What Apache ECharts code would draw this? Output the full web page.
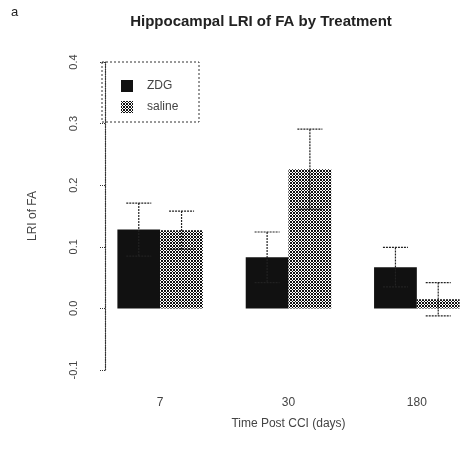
<!DOCTYPE html>
<html><head><meta charset="utf-8">
<script src="https://cdn.jsdelivr.net/npm/echarts@6/dist/echarts.min.js"></script>
<style>html,body{margin:0;padding:0;background:#fff}#c{width:472px;height:458px}</style>
</head><body><div id="c"></div>
<script>
var categories = ['7', '30', '180'];
var zdgMean = [0.128, 0.083, 0.067];
var zdgErr = [0.043, 0.041, 0.032];
var salineMean = [0.127, 0.226, 0.015];
var salineErr = [0.031, 0.065, 0.027];
var yMin = -0.1, yMax = 0.4, yStep = 0.1;

var pc = document.createElement('canvas');
pc.width = 3; pc.height = 3;
var pctx = pc.getContext('2d');
pctx.fillStyle = '#fff'; pctx.fillRect(0,0,3,3);
pctx.fillStyle = '#111';
pctx.fillRect(0,0,1,1); pctx.fillRect(2,0,1,1); pctx.fillRect(1,1,1,1); pctx.fillRect(0,2,1,1); pctx.fillRect(2,2,1,1);
var checker = {image: pc, repeat: 'repeat'};

function errSeries(means, errs, side) {
  return {
    type: 'custom', z: 10, silent: true,
    data: means.map(function (m, i) { return [i, m, errs[i]]; }),
    renderItem: function (params, api) {
      var i = api.value(0), m = api.value(1), e = api.value(2);
      var band = api.size([1, 0])[0];
      var c = api.coord([i, m]);
      var x = c[0] + side * band / 6;
      var top = api.coord([i, m + e])[1];
      var bot = api.coord([i, m - e])[1];
      var hw = 12.5;
      var st = {stroke: '#222', lineWidth: 1.2, lineDash: [2, 1]};
      return {type: 'group', children: [
        {type: 'line', shape: {x1: x, y1: top, x2: x, y2: bot}, style: st},
        {type: 'line', shape: {x1: x - hw, y1: top, x2: x + hw, y2: top}, style: st},
        {type: 'line', shape: {x1: x - hw, y1: bot, x2: x + hw, y2: bot}, style: st}
      ]};
    }
  };
}

var chart = echarts.init(document.getElementById('c'));
chart.setOption({
  animation: false,
  textStyle: {fontFamily: 'Liberation Sans'},
  title: {text: 'Hippocampal LRI of FA by Treatment', left: 256, textAlign: 'center', top: 9,
    textStyle: {fontSize: 15, fontWeight: 'bold', color: '#222', fontFamily: 'Liberation Sans'}},
  graphic: [
    {type: 'text', left: 11, top: 6, style: {text: 'a', font: '13px Liberation Sans', fill: '#222'}},
    {type: 'rect', shape: {x: 102, y: 62, width: 97, height: 60}, z: 5,
      style: {fill: 'rgba(255,255,255,0)', stroke: '#333', lineWidth: 1, lineDash: [2, 2]}}
  ],
  legend: {orient: 'vertical', left: 116, top: 75, itemWidth: 12, itemHeight: 12, itemGap: 9,
    icon: 'rect',
    textStyle: {fontSize: 12, color: '#444', padding: [0, 0, 0, 9]}, data: ['ZDG', 'saline']},
  grid: {left: 96, width: 385, top: 62, bottom: 88, outerBoundsMode: 'none', containLabel: false},
  xAxis: {type: 'category', data: categories,
    axisLine: {show: false}, axisTick: {show: false},
    axisLabel: {margin: 27, fontSize: 12, color: '#444'},
    name: 'Time Post CCI (days)', nameLocation: 'middle', nameGap: 48,
    nameTextStyle: {fontSize: 12, color: '#444'}},
  yAxis: {type: 'value', min: yMin, max: yMax, interval: yStep, offset: -9,
    axisLine: {show: true, lineStyle: {color: '#333', type: 'dotted', width: 1.2}},
    axisTick: {show: true, length: 6, lineStyle: {color: '#333', type: 'dotted'}},
    splitLine: {show: false},
    axisLabel: {rotate: 90, margin: 26, fontSize: 11, color: '#444',
      formatter: function (v) { return v.toFixed(1); }},
    name: 'LRI of FA', nameLocation: 'middle', nameRotate: 90, nameGap: 66,
    nameTextStyle: {fontSize: 12, color: '#444'}},
  series: [
    {name: 'ZDG', type: 'bar', data: zdgMean, barWidth: '33.33%', barGap: '0%',
      itemStyle: {color: '#111'}},
    {name: 'saline', type: 'bar', data: salineMean, barWidth: '33.33%', barGap: '0%',
      itemStyle: {color: checker}},
    errSeries(zdgMean, zdgErr, -1),
    errSeries(salineMean, salineErr, 1)
  ]
});
</script></body></html>
